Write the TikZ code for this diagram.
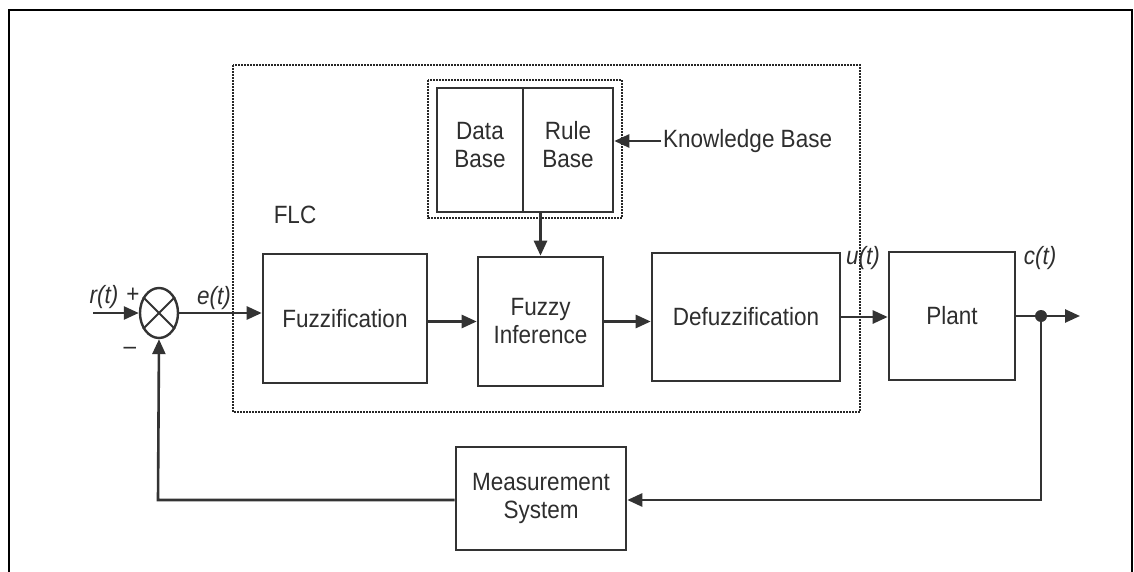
\documentclass[tikz,border=0pt]{standalone}
\usepackage{fontspec}
\setmainfont[FakeStretch=0.9]{Liberation Sans}
\usetikzlibrary{arrows.meta,shapes.geometric}
\definecolor{ln}{HTML}{333333}
\definecolor{tx}{HTML}{2E2E2E}
\tikzset{
  blk/.style={draw=ln,line width=2.6pt,fill=white,inner sep=0pt,align=center,text=tx,font=\fontsize{25}{28}\selectfont},
  lbl/.style={text=tx,inner sep=0pt,font=\fontsize{25}{28}\selectfont},
  ilbl/.style={text=tx,inner sep=0pt,font=\fontsize{25}{28}\selectfont\itshape},
  wire/.style={draw=ln,line width=2.6pt},
  arr/.style={wire,-{Triangle[length=15pt,width=13pt]}},
  dotbox/.style={draw=black!85,line width=2.4pt,dash pattern=on 1.6pt off 1.4pt}
}
\begin{document}
\begin{tikzpicture}[x=1pt,y=-1pt]
\useasboundingbox (0,0) rectangle (1134,572);
% outer frame
\draw[black,line width=2.6pt] (9,572) -- (9,10) -- (1132,10) -- (1132,572);
% FLC and knowledge base dotted boxes
\draw[dotbox] (233,65) rectangle (860,412);
\draw[dotbox] (428,80) rectangle (622,218);
\node[lbl] (flc) at (295,215) {FLC};
% blocks
\node[blk,minimum width=86pt,minimum height=124pt] (data) at (480,150) {};
\node[blk,minimum width=90pt,minimum height=124pt] (rule) at (568,150) {};
\node[lbl,align=center] (datat) at (480,145) {Data\\Base};
\node[lbl,align=center] (rulet) at (568,145) {Rule\\Base};
\node[blk,minimum width=164pt,minimum height=129pt] (fuzz) at (345,318.5) {Fuzzification};
\node[blk,minimum width=125pt,minimum height=129pt] (inf) at (540.5,321.5) {Fuzzy\\Inference};
\node[blk,minimum width=188pt,minimum height=128pt] (defuzz) at (746,317) {Defuzzification};
\node[blk,minimum width=126pt,minimum height=128pt] (plant) at (952,316) {Plant};
\node[blk,minimum width=170pt,minimum height=103pt] (meas) at (541,498.5) {Measurement\\System};
% summing junction
\node[draw=ln,line width=2.4pt,ellipse,minimum width=38pt,minimum height=50pt,inner sep=0pt] (sum) at (159,313) {};
\draw[wire,line width=2pt] (sum.45) -- (sum.225);
\draw[wire,line width=2pt] (sum.135) -- (sum.315);
% knowledge base label
\node[lbl,anchor=west] (kb) at (663,141) {Knowledge Base};
\coordinate (kbin) at (661,141);
\draw[arr] (kbin) -- (kbin -| rule.east);
% signal labels
\node[ilbl] (rt) at (104,297) {r(t)};
\node[lbl] (plus) at (133,295) {+};
\node[lbl] (minus) at (130,351) {\textendash};
\node[ilbl] (et) at (214,298) {e(t)};
\node[ilbl] (ut) at (863,258) {u(t)};
\node[ilbl] (ct) at (1040,258) {c(t)};
% coordinates
\coordinate (rin) at (93,313);
\coordinate (tap) at (1041,316);
\coordinate (out) at (1080,316);
\coordinate (fbr) at (1041,500);
\coordinate (fbl) at (158,500);
% connectors
\draw[arr] (rin) -- (sum.west);
\draw[arr] (sum.east) -- (sum.east -| fuzz.west);
\draw[arr] (inf.west -| fuzz.east) -- (inf.west);
\draw[arr] (inf.east) -- (inf.east -| defuzz.west);
\draw[arr] (defuzz.east) -- (defuzz.east -| plant.west);
\draw[arr] (inf.north |- rule.south) -- (inf.north);
\draw[arr] (plant.east) -- (out);
\fill[ln] (tap) circle (6pt);
\draw[arr] (tap) -- (fbr) -- (fbr -| meas.east);
\draw[arr] (fbl -| meas.west) -- (fbl) -- (sum.south);
\end{tikzpicture}
\end{document}
